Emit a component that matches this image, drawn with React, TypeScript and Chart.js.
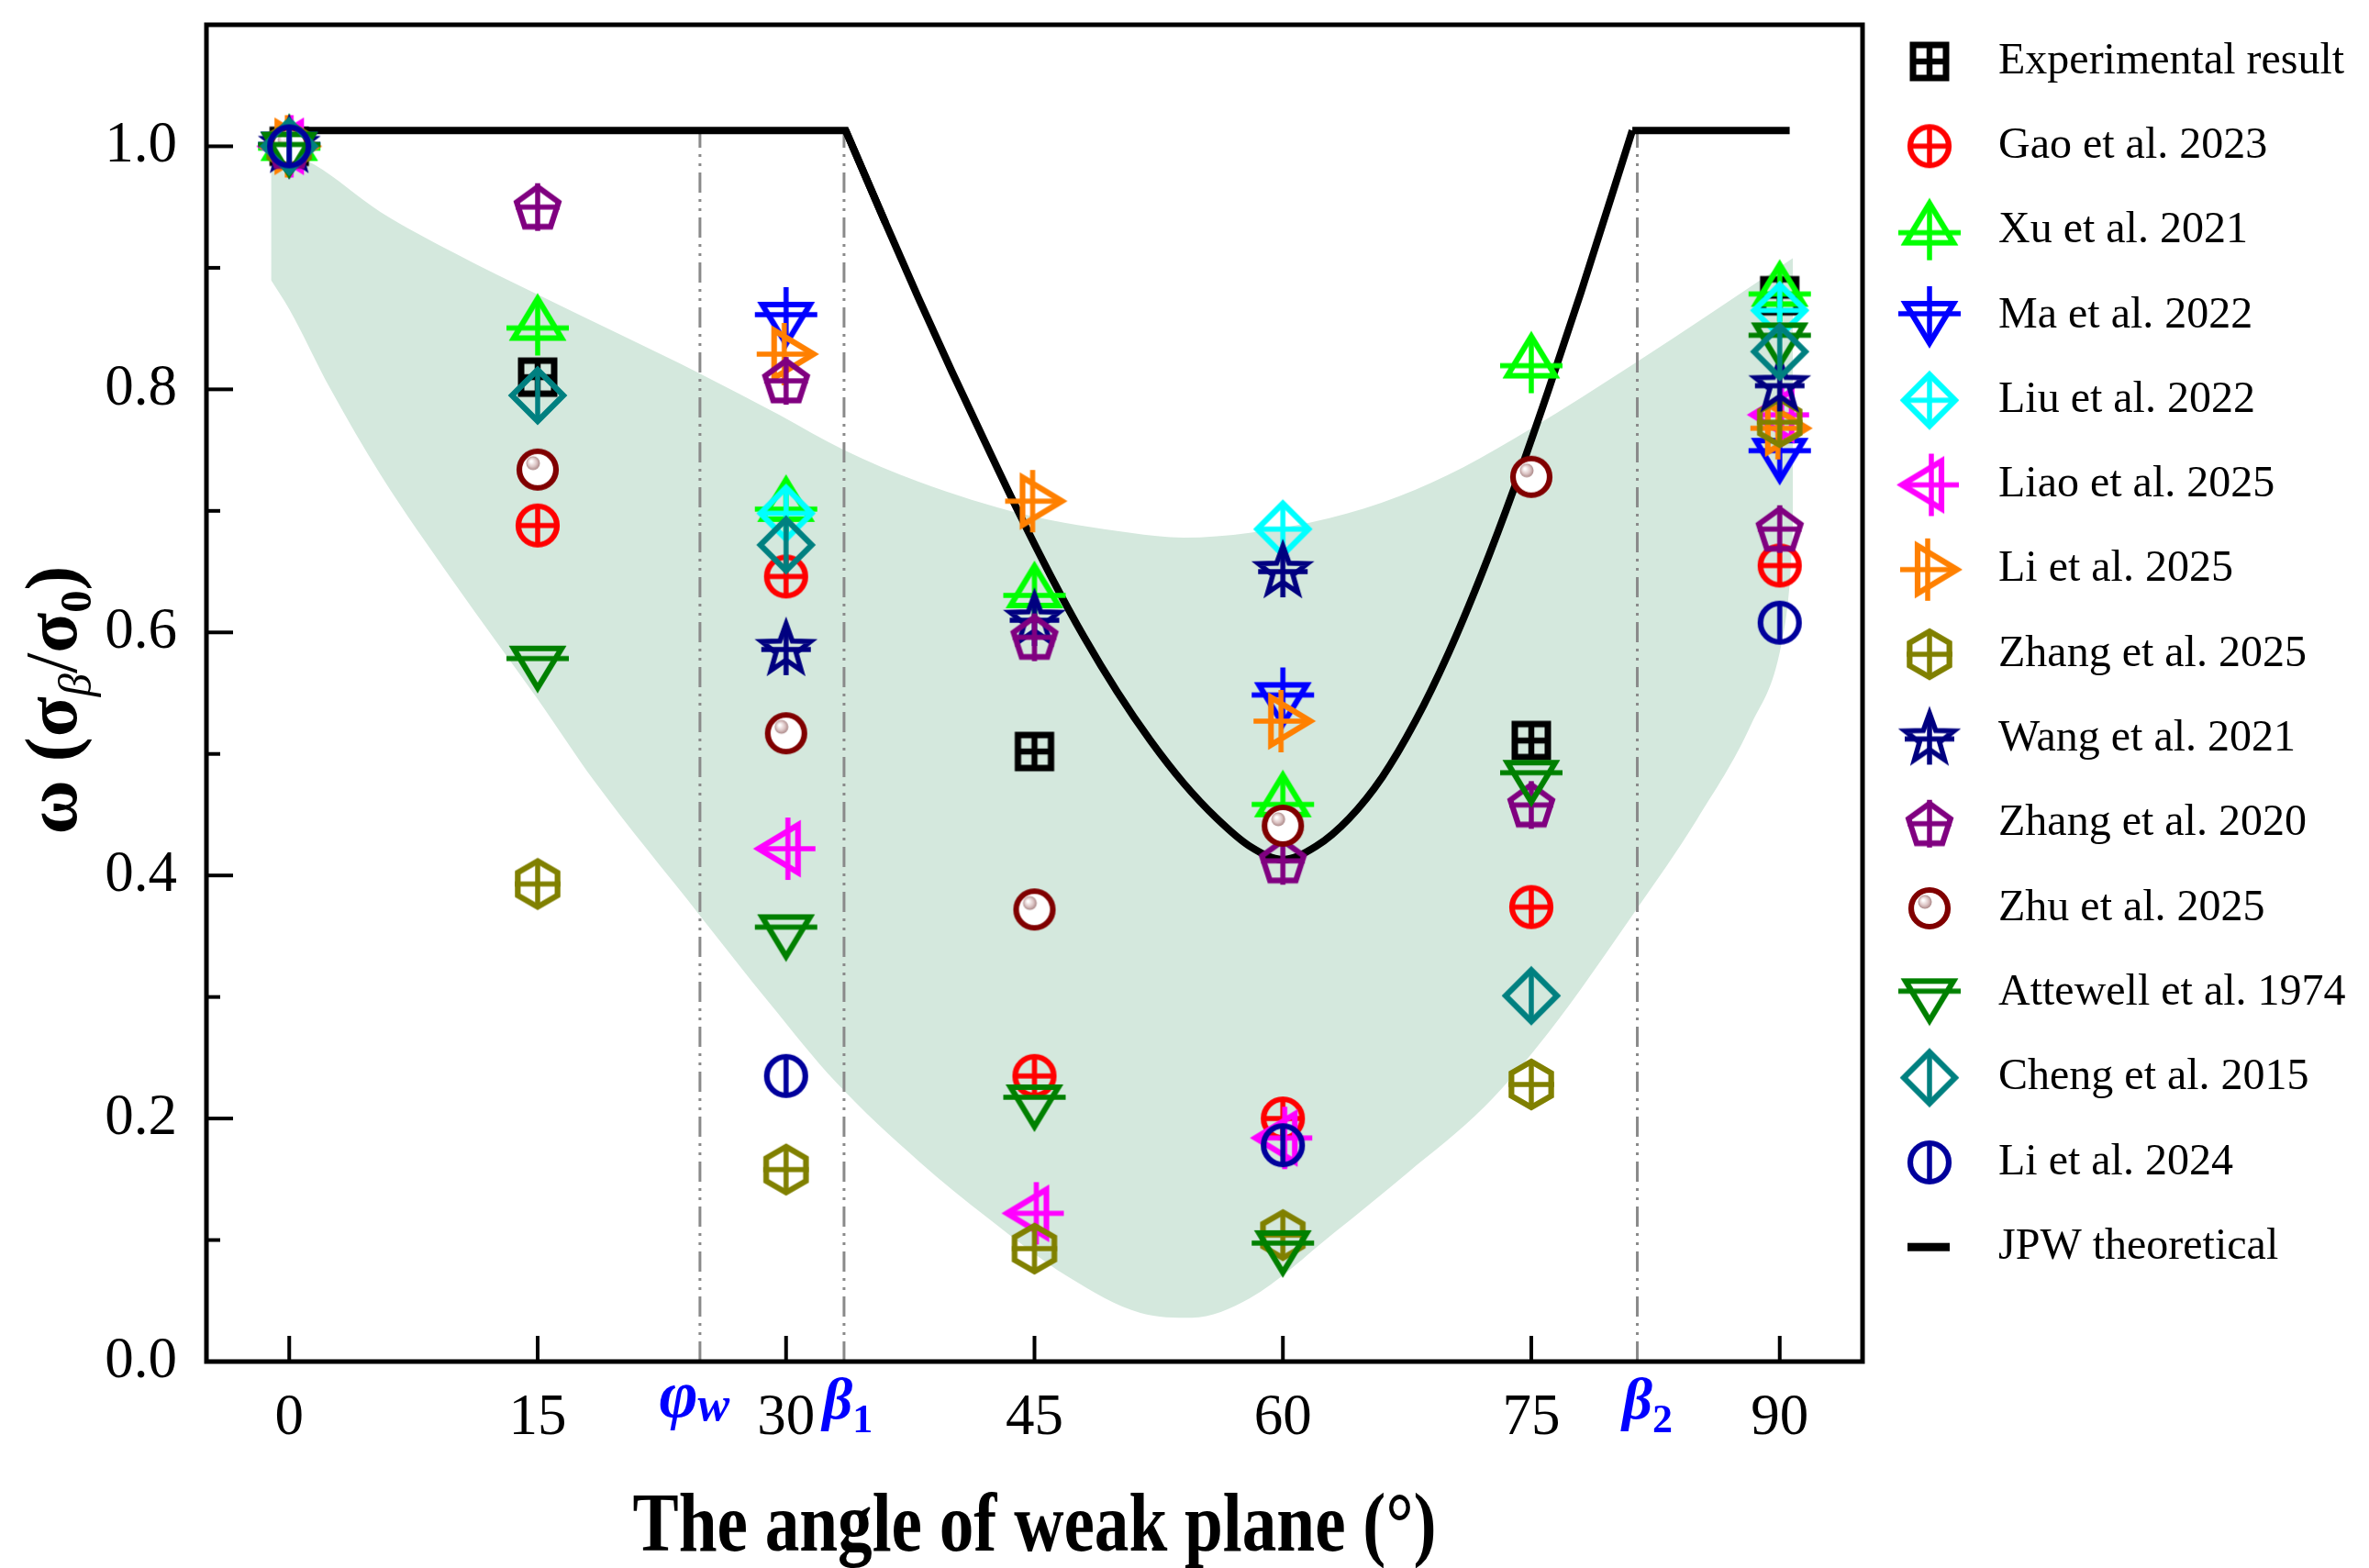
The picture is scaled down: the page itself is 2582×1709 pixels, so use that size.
import React, { useEffect, useRef } from 'react';
import { Chart, registerables } from 'chart.js';

Chart.register(...registerables);

const CANVAS_W = 2582;
const CANVAS_H = 1709;
const FONT = "'Liberation Serif', 'Times New Roman', serif";

// ---------- axes ----------
const X_MIN = -5;
const X_MAX = 95;
const Y_MIN = 0;
const Y_MAX = 1.1;
const X_TICKS = [0, 15, 30, 45, 60, 75, 90];
const Y_TICKS = [0, 0.2, 0.4, 0.6, 0.8, 1.0];
const Y_MINOR_TICKS = [0.1, 0.3, 0.5, 0.7, 0.9];
const X_TITLE = 'The angle of weak plane (°)';

// special angles: φw, β1, β2
const SPECIAL_ANGLES = [24.8, 33.5, 81.4];
const SPECIAL_MAIN = ['φ', 'β', 'β'];
const SPECIAL_SUB = ['w', '1', '2'];
const SPECIAL_TOP = 1.013;

// ---------- shaded band ----------
const BAND_UPPER_X = [-1.1, 1.5, 5.5, 10, 15, 20, 24.8, 29.6, 33.5, 38, 44.4, 50.8, 54, 58, 62.8, 67, 70.9, 74.9, 81.2, 86, 90.8];
const BAND_UPPER_Y = [1.0, 0.985, 0.946, 0.912, 0.878, 0.845, 0.813, 0.779, 0.75, 0.724, 0.697, 0.682, 0.678, 0.682, 0.694, 0.712, 0.736, 0.767, 0.821, 0.864, 0.908];
const BAND_LOWER_X = [-1.1, 0, 2.5, 5.5, 10, 15, 18.4, 24.8, 29, 33, 38, 42.2, 47, 51.4, 54.5, 58, 63.1, 67.5, 72.2, 76, 81.3, 85, 88.3, 90.1, 90.6, 90.8];
const BAND_LOWER_Y = [0.89, 0.866, 0.8, 0.73, 0.64, 0.545, 0.478, 0.367, 0.295, 0.23, 0.165, 0.118, 0.07, 0.04, 0.036, 0.052, 0.106, 0.155, 0.21, 0.27, 0.371, 0.446, 0.525, 0.59, 0.64, 0.687];

// ---------- JPW theoretical ----------
const JPW_X = [0, 33.6, 36, 38, 40, 42, 44, 46, 48, 50, 52, 54, 56, 58, 60, 62, 64, 66, 68, 70, 72, 74, 76, 78, 81.1, 90.6];
const JPW_Y = [1.013, 1.013, 0.937, 0.875, 0.815, 0.757, 0.7, 0.646, 0.596, 0.551, 0.511, 0.476, 0.447, 0.424, 0.413, 0.424, 0.447, 0.481, 0.527, 0.583, 0.648, 0.72, 0.798, 0.88, 1.013, 1.013];

// ---------- literature data [angle, ω] ----------
const EXPERIMENTAL: [number, number][] = [[0, 1.0], [15, 0.81], [45, 0.502], [75, 0.511], [90, 0.877]];
const GAO_2023: [number, number][] = [[0, 1.0], [15, 0.688], [30, 0.646], [45, 0.235], [60, 0.2], [75, 0.374], [90, 0.655]];
const XU_2021: [number, number][] = [[0, 1.0], [15, 0.852], [30, 0.703], [45, 0.632], [60, 0.46], [75, 0.821], [90, 0.88]];
const MA_2022: [number, number][] = [[0, 1.0], [30, 0.86], [60, 0.547], [90, 0.748]];
const LIU_2022: [number, number][] = [[0, 1.0], [30, 0.698], [60, 0.685], [90, 0.865]];
const LIAO_2025: [number, number][] = [[0, 1.0], [30, 0.422], [45, 0.122], [60, 0.184], [90, 0.779]];
const LI_2025: [number, number][] = [[0, 1.0], [30, 0.829], [45, 0.708], [60, 0.527], [90, 0.768]];
const ZHANG_2025: [number, number][] = [[0, 1.0], [15, 0.393], [30, 0.158], [45, 0.093], [60, 0.104], [75, 0.228], [90, 0.773]];
const WANG_2021: [number, number][] = [[0, 1.0], [30, 0.586], [45, 0.61], [60, 0.65], [90, 0.803]];
const ZHANG_2020: [number, number][] = [[0, 1.0], [15, 0.95], [30, 0.807], [45, 0.596], [60, 0.412], [75, 0.458], [90, 0.685]];
const ZHU_2025: [number, number][] = [[0, 1.0], [15, 0.734], [30, 0.517], [45, 0.372], [60, 0.441], [75, 0.728]];
const ATTEWELL_1974: [number, number][] = [[0, 1.0], [15, 0.577], [30, 0.356], [45, 0.216], [60, 0.096], [75, 0.483], [90, 0.843]];
const CHENG_2015: [number, number][] = [[0, 1.0], [15, 0.795], [30, 0.672], [75, 0.301], [90, 0.831]];
const LI_2024: [number, number][] = [[0, 1.0], [30, 0.235], [60, 0.178], [90, 0.608]];

const SERIES_LABELS = [
  'Experimental result', 'Gao et al. 2023', 'Xu et al. 2021', 'Ma et al. 2022', 'Liu et al. 2022',
  'Liao et al. 2025', 'Li et al. 2025', 'Zhang et al. 2025', 'Wang et al. 2021', 'Zhang et al. 2020',
  'Zhu et al. 2025', 'Attewell et al. 1974', 'Cheng et al. 2015', 'Li et al. 2024',
];
const SERIES_VALUES = [
  EXPERIMENTAL, GAO_2023, XU_2021, MA_2022, LIU_2022, LIAO_2025, LI_2025, ZHANG_2025,
  WANG_2021, ZHANG_2020, ZHU_2025, ATTEWELL_1974, CHENG_2015, LI_2024,
];
const JPW_LABEL = 'JPW theoretical';

// ---------- styles ----------
const SERIES_COLORS = [
  '#000000', '#ff0000', '#00ff00', '#0000ff', '#00ffff', '#ff00ff', '#ff8000', '#808000',
  '#000080', '#800080', '#800000', '#008000', '#008080', '#00009c',
];
type Kind = 'square' | 'circlePlus' | 'triUp' | 'triDown' | 'triLeft' | 'triRight' | 'diamondPlus'
  | 'hexagon' | 'star' | 'pentagon' | 'zhu' | 'attewell' | 'diamondBar' | 'circleBar';
const SERIES_MARKERS: Kind[] = [
  'square', 'circlePlus', 'triUp', 'triDown', 'diamondPlus', 'triLeft', 'triRight', 'hexagon',
  'star', 'pentagon', 'zhu', 'attewell', 'diamondBar', 'circleBar',
];
const BAND_COLOR = 'rgb(212, 232, 221)';
const GUIDE_COLOR = '#8a8a8a';

const MARKER_SIZE = 88;

function makeMarker(kind: Kind, color: string): HTMLCanvasElement {
  const S = MARKER_SIZE;
  const c = document.createElement('canvas');
  c.width = S;
  c.height = S;
  const g = c.getContext('2d') as CanvasRenderingContext2D;
  g.translate(S / 2, S / 2);
  g.strokeStyle = color;
  g.fillStyle = color;
  const LW = 6.2;
  const LW_IN = 5.5;
  g.lineWidth = LW;
  g.lineJoin = 'miter';
  g.lineCap = 'butt';
  const line = (x1: number, y1: number, x2: number, y2: number) => {
    g.beginPath();
    g.moveTo(x1, y1);
    g.lineTo(x2, y2);
    g.stroke();
  };
  const poly = (pts: number[][]) => {
    g.beginPath();
    pts.forEach(([x, y], i) => (i ? g.lineTo(x, y) : g.moveTo(x, y)));
    g.closePath();
    g.stroke();
  };
  const circle = (r: number) => {
    g.beginPath();
    g.arc(0, 0, r, 0, Math.PI * 2);
    g.stroke();
  };
  switch (kind) {
    case 'square':
      g.lineWidth = 7;
      g.strokeRect(-18, -18, 36, 36);
      g.lineWidth = 6.5;
      line(0, -18, 0, 18);
      line(-18, 0, 18, 0);
      break;
    case 'circlePlus':
      circle(21);
      g.lineWidth = LW_IN;
      line(0, -21, 0, 21);
      line(-21, 0, 21, 0);
      break;
    case 'circleBar':
      circle(21);
      g.lineWidth = LW_IN;
      line(0, -21, 0, 21);
      break;
    case 'triUp':
      poly([[0, -30], [26, 13], [-26, 13]]);
      g.lineWidth = LW_IN;
      line(0, -31, 0, 32);
      line(-34, 2, 34, 2);
      break;
    case 'triDown':
      poly([[0, 30], [26, -13], [-26, -13]]);
      g.lineWidth = LW_IN;
      line(0, 31, 0, -32);
      line(-34, -2, 34, -2);
      break;
    case 'attewell':
      poly([[0, 30], [26, -13], [-26, -13]]);
      g.lineWidth = LW_IN;
      line(-34, -2, 34, -2);
      break;
    case 'triLeft':
      poly([[-30, 0], [13, -26], [13, 26]]);
      g.lineWidth = LW_IN;
      line(-31, 0, 32, 0);
      line(2, -34, 2, 34);
      break;
    case 'triRight':
      poly([[30, 0], [-13, -26], [-13, 26]]);
      g.lineWidth = LW_IN;
      line(31, 0, -32, 0);
      line(-2, -34, -2, 34);
      break;
    case 'diamondPlus':
      poly([[0, -28], [28, 0], [0, 28], [-28, 0]]);
      g.lineWidth = LW_IN;
      line(0, -28, 0, 28);
      line(-28, 0, 28, 0);
      break;
    case 'diamondBar':
      poly([[0, -28], [28, 0], [0, 28], [-28, 0]]);
      g.lineWidth = LW_IN;
      line(0, -28, 0, 28);
      break;
    case 'hexagon': {
      const pts: number[][] = [];
      for (let k = 0; k < 6; k++) {
        const a = -Math.PI / 2 + (k * Math.PI) / 3;
        pts.push([25 * Math.cos(a), 25 * Math.sin(a)]);
      }
      poly(pts);
      g.lineWidth = LW_IN;
      line(0, -25, 0, 25);
      line(-25, 0, 25, 0);
      break;
    }
    case 'star': {
      const pts: number[][] = [];
      for (let k = 0; k < 10; k++) {
        const a = -Math.PI / 2 + (k * Math.PI) / 5;
        const r = k % 2 ? 11.5 : 28;
        pts.push([r * Math.cos(a), r * Math.sin(a)]);
      }
      g.lineWidth = 5.5;
      poly(pts);
      line(0, -28, 0, 28);
      line(-27, 0, 27, 0);
      break;
    }
    case 'pentagon': {
      const pts: number[][] = [];
      for (let k = 0; k < 5; k++) {
        const a = -Math.PI / 2 + (k * 2 * Math.PI) / 5;
        pts.push([24 * Math.cos(a), 24 * Math.sin(a) + 2]);
      }
      poly(pts);
      g.lineWidth = LW_IN;
      line(0, -26, 0, 26);
      line(-24, 0, 24, 0);
      break;
    }
    case 'zhu': {
      g.beginPath();
      g.arc(0, 0, 20, 0, Math.PI * 2);
      g.fillStyle = '#ffffff';
      g.fill();
      g.stroke();
      const grd = g.createRadialGradient(-7, -9, 1, -5, -7, 8);
      grd.addColorStop(0, '#ffffff');
      grd.addColorStop(0.55, '#dcc4c4');
      grd.addColorStop(1, '#a48080');
      g.beginPath();
      g.arc(-5, -7, 7.5, 0, Math.PI * 2);
      g.fillStyle = grd;
      g.fill();
      break;
    }
  }
  return c;
}

const xy = (xs: number[], ys: number[]) => xs.map((x, i) => ({ x, y: ys[i] }));
const pairs = (p: [number, number][]) => p.map(([x, y]) => ({ x, y }));

type Run = { t: string; font: string; dy: number };
function measureRuns(ctx: CanvasRenderingContext2D, runs: Run[]) {
  return runs.map((r) => {
    ctx.font = r.font;
    return ctx.measureText(r.t).width;
  });
}
function drawRuns(ctx: CanvasRenderingContext2D, runs: Run[], startX: number, baseY: number) {
  const ws = measureRuns(ctx, runs);
  let cx = startX;
  runs.forEach((r, i) => {
    ctx.font = r.font;
    ctx.fillText(r.t, cx, baseY + r.dy);
    cx += ws[i];
  });
}

export default function App() {
  const canvasRef = useRef<HTMLCanvasElement | null>(null);

  useEffect(() => {
    const canvas = canvasRef.current;
    if (!canvas) return;
    const markers = SERIES_MARKERS.map((k, i) => makeMarker(k, SERIES_COLORS[i]));

    const datasets: any[] = [];
    datasets.push({
      label: 'band-lower',
      data: xy(BAND_LOWER_X, BAND_LOWER_Y),
      borderWidth: 0,
      borderColor: 'rgba(0,0,0,0)',
      pointRadius: 0,
      fill: false,
      cubicInterpolationMode: 'monotone',
      order: 100,
    });
    datasets.push({
      label: 'band-upper',
      data: xy(BAND_UPPER_X, BAND_UPPER_Y),
      borderWidth: 0,
      borderColor: 'rgba(0,0,0,0)',
      backgroundColor: BAND_COLOR,
      pointRadius: 0,
      fill: '-1',
      cubicInterpolationMode: 'monotone',
      order: 100,
    });
    SPECIAL_ANGLES.forEach((a, i) => {
      datasets.push({
        label: 'guide-' + i,
        data: [{ x: a, y: Y_MIN }, { x: a, y: SPECIAL_TOP }],
        borderColor: GUIDE_COLOR,
        borderWidth: 3,
        borderDash: [22, 7, 3, 7, 3, 7],
        pointRadius: 0,
        fill: false,
        order: 90,
      });
    });
    const jpwPts = xy(JPW_X, JPW_Y);
    const last = jpwPts.length - 1;
    datasets.push({
      label: JPW_LABEL,
      data: jpwPts.slice(1, last),
      borderColor: '#000',
      borderWidth: 8,
      pointRadius: 0,
      fill: false,
      cubicInterpolationMode: 'monotone',
      order: 80,
    });
    datasets.push({
      label: JPW_LABEL + '-left',
      data: jpwPts.slice(0, 3),
      borderColor: '#000',
      borderWidth: 8,
      borderJoinStyle: 'miter',
      pointRadius: 0,
      fill: false,
      tension: 0,
      order: 80,
    });
    datasets.push({
      label: JPW_LABEL + '-right',
      data: jpwPts.slice(last - 1),
      borderColor: '#000',
      borderWidth: 8,
      borderJoinStyle: 'miter',
      pointRadius: 0,
      fill: false,
      tension: 0,
      order: 80,
    });
    SERIES_VALUES.forEach((vals, i) => {
      datasets.push({
        label: SERIES_LABELS[i],
        data: pairs(vals),
        showLine: false,
        pointStyle: markers[i],
        pointRadius: 22,
        pointHoverRadius: 22,
        borderColor: SERIES_COLORS[i],
        backgroundColor: SERIES_COLORS[i],
        fill: false,
        order: SERIES_VALUES.length - i,
      });
    });

    const decor = {
      id: 'decor',
      afterDraw(chart: any) {
        const ctx: CanvasRenderingContext2D = chart.ctx;
        const { left, right, top, bottom } = chart.chartArea;
        const xs = chart.scales.x;
        const ys = chart.scales.y;
        ctx.save();
        const seg = (x1: number, y1: number, x2: number, y2: number) => {
          ctx.beginPath();
          ctx.moveTo(x1, y1);
          ctx.lineTo(x2, y2);
          ctx.stroke();
        };
        // frame
        ctx.strokeStyle = '#000';
        ctx.lineWidth = 5;
        ctx.strokeRect(left, top, right - left, bottom - top);
        // inward ticks
        ctx.lineWidth = 4;
        X_TICKS.forEach((v) => {
          const px = xs.getPixelForValue(v);
          seg(px, bottom, px, bottom - 28);
        });
        Y_TICKS.forEach((v) => {
          const py = ys.getPixelForValue(v);
          seg(left, py, left + 29, py);
        });
        Y_MINOR_TICKS.forEach((v) => {
          const py = ys.getPixelForValue(v);
          seg(left, py, left + 15, py);
        });

        // special x labels (φw, β1, β2)
        const offsets = [-6, 4, 11];
        ctx.fillStyle = '#0000ff';
        ctx.textBaseline = 'alphabetic';
        ctx.textAlign = 'left';
        SPECIAL_ANGLES.forEach((a, i) => {
          const px = xs.getPixelForValue(a) + offsets[i];
          const isPhi = SPECIAL_MAIN[i] === 'φ';
          const runs: Run[] = [
            { t: SPECIAL_MAIN[i], font: `italic bold ${isPhi ? 72 : 64}px ${FONT}`, dy: isPhi ? -2 : 0 },
            isPhi
              ? { t: SPECIAL_SUB[i], font: `italic bold 52px ${FONT}`, dy: 2 }
              : { t: SPECIAL_SUB[i], font: `bold 44px ${FONT}`, dy: 15 },
          ];
          const ws = measureRuns(ctx, runs);
          const tot = ws[0] + ws[1];
          drawRuns(ctx, runs, px - tot / 2, 1546);
        });

        // x title (condensed bold)
        ctx.fillStyle = '#000';
        ctx.font = `bold 92px ${FONT}`;
        const tw = ctx.measureText(X_TITLE).width;
        const sx = 876 / tw;
        const cxTitle = (left + right) / 2;
        ctx.save();
        ctx.translate(cxTitle, 1690);
        ctx.scale(sx, 1);
        ctx.textAlign = 'center';
        ctx.fillText(X_TITLE, 0, 0);
        ctx.restore();

        // y title: ω (σβ/σ0)
        const yRuns: Run[] = [
          { t: 'ω (', font: `bold 80px ${FONT}`, dy: 0 },
          { t: 'σ', font: `bold 80px ${FONT}`, dy: 0 },
          { t: 'β', font: `italic 50px ${FONT}`, dy: 16 },
          { t: '/', font: `80px ${FONT}`, dy: 0 },
          { t: 'σ', font: `bold 80px ${FONT}`, dy: 0 },
          { t: '0', font: `bold 48px ${FONT}`, dy: 16 },
          { t: ')', font: `bold 80px ${FONT}`, dy: 0 },
        ];
        const yws = measureRuns(ctx, yRuns);
        const ytot = yws.reduce((s, w) => s + w, 0);
        const ysx = Math.min(1.05, 293 / ytot);
        ctx.save();
        ctx.translate(83, 763);
        ctx.rotate(-Math.PI / 2);
        ctx.scale(ysx, 1);
        ctx.textAlign = 'left';
        drawRuns(ctx, yRuns, -ytot / 2, 0);
        ctx.restore();

        // legend
        const LX_M = 2103;
        const LX_T = 2178;
        const LY0 = 67;
        const LDY = 92.3;
        ctx.font = `48px ${FONT}`;
        ctx.textBaseline = 'middle';
        ctx.textAlign = 'left';
        ctx.fillStyle = '#000';
        SERIES_LABELS.forEach((lab, i) => {
          const y = LY0 + i * LDY;
          ctx.drawImage(markers[i], LX_M - MARKER_SIZE / 2, y - MARKER_SIZE / 2);
          ctx.fillText(lab, LX_T, y);
        });
        const yj = LY0 + SERIES_LABELS.length * LDY;
        ctx.fillRect(LX_M - 24, yj - 4.5, 46, 9);
        ctx.fillText(JPW_LABEL, LX_T, yj);
        ctx.restore();
      },
    };

    const chart = new Chart(canvas, {
      type: 'line',
      data: { datasets },
      options: {
        responsive: false,
        animation: false,
        devicePixelRatio: 1,
        events: [],
        layout: { padding: { left: 0, top: 27, right: CANVAS_W - 2030, bottom: 0 } },
        plugins: { legend: { display: false }, tooltip: { enabled: false } },
        scales: {
          x: {
            type: 'linear',
            min: X_MIN,
            max: X_MAX,
            afterBuildTicks: (s: any) => {
              s.ticks = X_TICKS.map((v) => ({ value: v }));
            },
            afterFit: (s: any) => {
              s.height = CANVAS_H - 1484;
              s.paddingLeft = 0;
              s.paddingRight = 0;
            },
            grid: { display: false, drawTicks: false },
            border: { display: false },
            ticks: {
              font: { family: FONT, size: 63 },
              color: '#000',
              padding: 25,
              maxRotation: 0,
              autoSkip: false,
              callback: (v: any) => String(v),
            },
          },
          y: {
            type: 'linear',
            min: Y_MIN,
            max: Y_MAX,
            afterBuildTicks: (s: any) => {
              s.ticks = Y_TICKS.map((v) => ({ value: v }));
            },
            afterFit: (s: any) => {
              s.width = 225;
              s.paddingTop = 0;
              s.paddingBottom = 0;
            },
            grid: { display: false, drawTicks: false },
            border: { display: false },
            ticks: {
              font: { family: FONT, size: 63 },
              color: '#000',
              padding: 32,
              autoSkip: false,
              callback: (v: any) => Number(v).toFixed(1),
            },
          },
        },
      } as any,
      plugins: [decor as any],
    });
    return () => chart.destroy();
  }, []);

  return (
    <div style={{ position: 'fixed', left: 0, top: 0, width: CANVAS_W, height: CANVAS_H, background: '#ffffff' }}>
      <canvas
        ref={canvasRef}
        width={CANVAS_W}
        height={CANVAS_H}
        style={{ display: 'block', width: CANVAS_W, height: CANVAS_H }}
      />
    </div>
  );
}
